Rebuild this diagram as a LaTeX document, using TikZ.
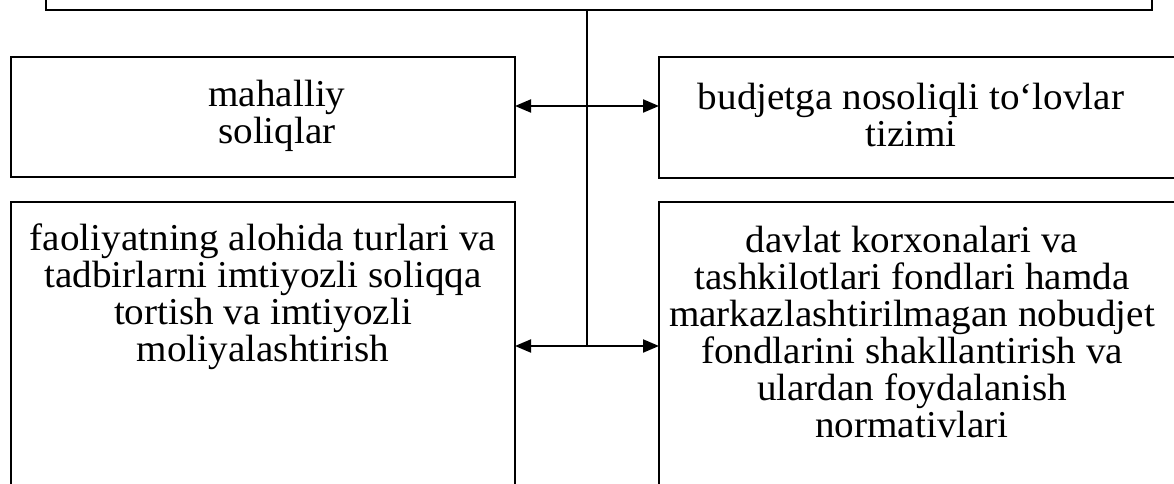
\documentclass[tikz,border=0pt]{standalone}
\usepackage{fontspec}
\setmainfont[FakeStretch=1.03]{Liberation Serif}
\usetikzlibrary{arrows.meta}
\begin{document}
\begin{tikzpicture}[x=1pt,y=-1pt,
  box/.style={draw,line width=1.6pt,inner sep=0pt,outer sep=0pt},
  txt/.style={align=center,font=\fontsize{38}{37}\selectfont,inner sep=0pt},
  link/.style={line width=1.4pt},
  dbl/.style={{Triangle[length=16pt,width=13pt]}-{Triangle[length=16pt,width=13pt]},line width=2pt}]
\useasboundingbox (0,0) rectangle (1174,484);
% boxes
\node[box,minimum width=1106pt,minimum height=130pt] (top) at (599,-55) {};
\node[box,minimum width=504pt,minimum height=120pt] (L1) at (263,117) {};
\node[box,minimum width=541pt,minimum height=121pt] (R1) at (929.5,117.5) {};
\node[box,minimum width=504pt,minimum height=358pt] (L2) at (263,381) {};
\node[box,minimum width=541pt,minimum height=358pt] (R2) at (929.5,381) {};
% texts
\node[txt] (tL1) at (277,115.5) {mahalliy\\soliqlar};
\node[txt] (tR1) at (911,115.5) {budjetga nosoliqli to‘lovlar\\tizimi};
\node[txt] (tL2) at (263,296.5) {faoliyatning alohida turlari va\\tadbirlarni imtiyozli soliqqa\\tortish va imtiyozli\\moliyalashtirish};
\node[txt] (tR2) at (912,332) {davlat korxonalari va\\tashkilotlari fondlari hamda\\markazlashtirilmagan nobudjet\\fondlarini shakllantirish va\\ulardan foydalanish\\normativlari};
% connectors
\coordinate (mid) at (587,346);
\coordinate (a1) at (0,106);
\coordinate (a2) at (0,346);
\draw[link] (top.south -| mid) -- (mid);
\draw[dbl] (L1.east |- a1) -- (R1.west |- a1);
\draw[dbl] (L2.east |- a2) -- (R2.west |- a2);
\end{tikzpicture}
\end{document}
